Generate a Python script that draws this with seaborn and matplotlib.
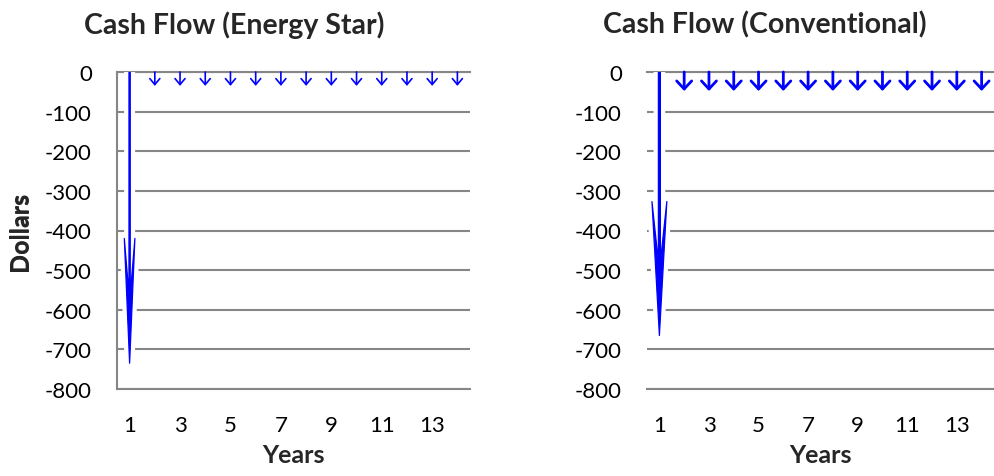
import matplotlib
matplotlib.use("Agg")
import matplotlib.pyplot as plt
import matplotlib.patheffects as pe
import seaborn as sns

# data
years = [1, 2, 3, 4, 5, 6, 7, 8, 9, 10, 11, 12, 13, 14]
energy_star = [-735, -35, -35, -35, -35, -35, -35, -35, -35, -35, -35, -35, -35, -35]
conventional = [-665, -48, -48, -48, -48, -48, -48, -48, -48, -48, -48, -48, -48, -48]
x_ticks = [1, 3, 5, 7, 9, 11, 13]
y_ticks = [0, -100, -200, -300, -400, -500, -600, -700, -800]

sns.set_style("white")
plt.rcParams['font.family'] = ['Lato', 'DejaVu Sans']
plt.rcParams['axes.unicode_minus'] = False

W, H = 994, 477
fig = plt.figure(figsize=(W / 100, H / 100), dpi=100)
grid_col = '#868686'


def draw_panel(left, width, values, title, title_x, big, small, show_spine):
    ax = fig.add_axes([left / W, (H - 390) / H, width / W, 317 / H])
    ax.set_xlim(0.5, 14.5)
    ax.set_ylim(-800, 0)
    ax.set_yticks(y_ticks)
    ax.set_yticklabels([str(v) for v in y_ticks])
    ax.set_xticks(x_ticks)
    ax.tick_params(axis='both', length=0, labelsize=16, colors='black')
    ax.tick_params(axis='y', pad=18)
    ax.tick_params(axis='x', pad=19)
    ax.grid(axis='y', color=grid_col, lw=1.5)
    ax.grid(axis='x', visible=False)
    ax.set_axisbelow(True)
    for s in ['top', 'bottom', 'left']:
        ax.spines[s].set_color(grid_col)
        ax.spines[s].set_linewidth(1.5)
    ax.spines['right'].set_visible(False)
    ax.spines['left'].set_visible(show_spine)

    for yr, v in zip(years, values):
        if v == min(values):
            # long first-year outlay: thin stem, long swept-back head
            sw, hw, hl = big
            arr = ax.arrow(yr, 0, 0, v, width=sw, head_width=hw, head_length=hl,
                           length_includes_head=True, overhang=0.45,
                           color='blue', lw=0.9, joinstyle='round', zorder=3)
            arr.set_path_effects([pe.Stroke(linewidth=7, foreground='white'),
                                  pe.Normal()])
        else:
            lw, hl, hw = small
            ax.annotate("", xy=(yr, v), xytext=(yr, 0),
                        arrowprops=dict(arrowstyle=f"->,head_length={hl},head_width={hw}",
                                        color='blue', lw=lw, shrinkA=0, shrinkB=0,
                                        mutation_scale=1))

    ax.set_xlabel("Years", fontsize=18, fontweight='bold', va='center')
    ax.xaxis.set_label_coords(0.5, (390 - 456) / 317)
    ax.set_ylabel("Dollars", fontsize=18, fontweight='bold', va='center')
    ax.yaxis.set_label_coords((20 - left) / width, 0.5)
    fig.text(title_x / W, 1 - 25 / H, title, fontsize=20.5, fontweight='bold',
             ha='center', va='center')
    return ax


draw_panel(117, 353, energy_star, "Cash Flow (Energy Star)", 234,
           big=(0.05, 0.42, 315), small=(1.2, 4.3, 3.6), show_spine=True)
draw_panel(647, 347, conventional, "Cash Flow (Conventional)", 765,
           big=(0.08, 0.6, 338), small=(2.0, 5.8, 5.4), show_spine=False)

fig.savefig("out.png", dpi=100)
